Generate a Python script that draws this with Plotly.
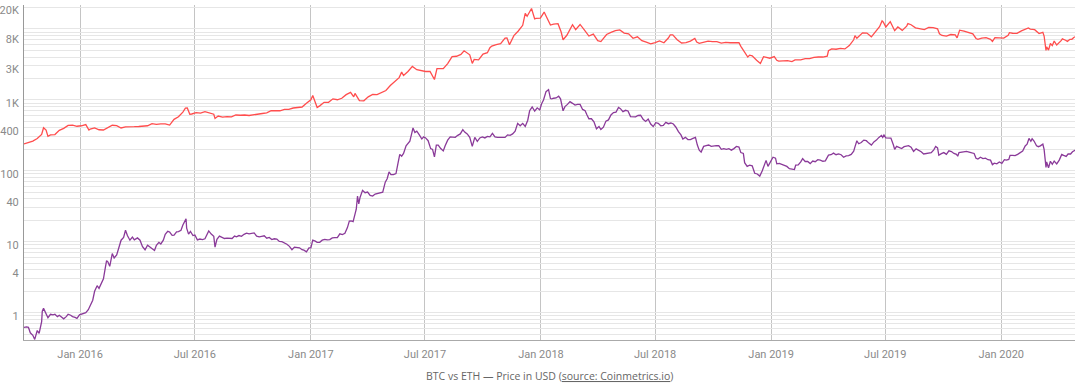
import plotly.graph_objects as go

# ---------------- data ----------------
btc_points = [
    ("2015-10-04", 238), ("2015-10-11", 247), ("2015-10-18", 262), ("2015-10-25", 285),
    ("2015-11-01", 325), ("2015-11-04", 403), ("2015-11-08", 373), ("2015-11-11", 305),
    ("2015-11-15", 320), ("2015-11-22", 323), ("2015-11-29", 370), ("2015-12-06", 395),
    ("2015-12-13", 435), ("2015-12-20", 440), ("2015-12-27", 423),
    ("2016-01-03", 430), ("2016-01-10", 447), ("2016-01-15", 375), ("2016-01-17", 387),
    ("2016-01-24", 402), ("2016-01-31", 378), ("2016-02-07", 375), ("2016-02-14", 405),
    ("2016-02-21", 437), ("2016-02-28", 432), ("2016-03-06", 400), ("2016-03-13", 414),
    ("2016-03-20", 411), ("2016-03-27", 417), ("2016-04-03", 420), ("2016-04-10", 421),
    ("2016-04-17", 430), ("2016-04-24", 460), ("2016-05-01", 451), ("2016-05-08", 458),
    ("2016-05-15", 457), ("2016-05-22", 440), ("2016-05-29", 530), ("2016-06-05", 575),
    ("2016-06-12", 670), ("2016-06-16", 760), ("2016-06-19", 765), ("2016-06-23", 625),
    ("2016-06-26", 630), ("2016-07-03", 660), ("2016-07-10", 650), ("2016-07-17", 680),
    ("2016-07-24", 660), ("2016-07-31", 625), ("2016-08-02", 545), ("2016-08-07", 590),
    ("2016-08-14", 570), ("2016-08-21", 580), ("2016-08-28", 575), ("2016-09-04", 610),
    ("2016-09-11", 605), ("2016-09-18", 610), ("2016-09-25", 600), ("2016-10-02", 610),
    ("2016-10-09", 617), ("2016-10-16", 640), ("2016-10-23", 655), ("2016-10-30", 700),
    ("2016-11-06", 705), ("2016-11-13", 700), ("2016-11-20", 730), ("2016-11-27", 730),
    ("2016-12-04", 765), ("2016-12-11", 770), ("2016-12-18", 790), ("2016-12-25", 890),
    ("2017-01-01", 1000), ("2017-01-04", 1150), ("2017-01-11", 780), ("2017-01-15", 820),
    ("2017-01-22", 920), ("2017-01-29", 920), ("2017-02-05", 1030), ("2017-02-12", 1000),
    ("2017-02-19", 1050), ("2017-02-26", 1180), ("2017-03-05", 1270), ("2017-03-10", 1100),
    ("2017-03-12", 1230), ("2017-03-19", 970), ("2017-03-26", 965), ("2017-04-02", 1100),
    ("2017-04-09", 1190), ("2017-04-16", 1180), ("2017-04-23", 1250), ("2017-04-30", 1350),
    ("2017-05-07", 1590), ("2017-05-14", 1780), ("2017-05-21", 2050), ("2017-05-25", 2450),
    ("2017-05-28", 2200), ("2017-06-04", 2500), ("2017-06-11", 2950), ("2017-06-18", 2650),
    ("2017-06-25", 2560), ("2017-07-02", 2500), ("2017-07-09", 2500), ("2017-07-16", 1930),
    ("2017-07-20", 2750), ("2017-07-23", 2750), ("2017-07-30", 2750), ("2017-08-06", 3230),
    ("2017-08-13", 4050), ("2017-08-20", 4100), ("2017-08-27", 4350), ("2017-09-01", 4900),
    ("2017-09-10", 4300), ("2017-09-14", 3250), ("2017-09-17", 3700), ("2017-09-24", 3650),
    ("2017-10-01", 4400), ("2017-10-08", 4600), ("2017-10-12", 5400), ("2017-10-15", 5700),
    ("2017-10-22", 6000), ("2017-10-29", 6150), ("2017-11-05", 7400), ("2017-11-08", 7450),
    ("2017-11-12", 5950), ("2017-11-19", 8000), ("2017-11-26", 9300), ("2017-12-03", 11200),
    ("2017-12-07", 16500), ("2017-12-10", 15000), ("2017-12-17", 19300), ("2017-12-22", 13800),
    ("2017-12-24", 14000), ("2017-12-31", 14150),
    ("2018-01-06", 17200), ("2018-01-10", 14500), ("2018-01-16", 11300), ("2018-01-21", 11600),
    ("2018-01-28", 11800), ("2018-02-02", 9000), ("2018-02-05", 7000), ("2018-02-11", 8100),
    ("2018-02-18", 10400), ("2018-02-20", 11400), ("2018-02-25", 9700), ("2018-03-04", 11500),
    ("2018-03-11", 9600), ("2018-03-18", 7900), ("2018-03-25", 8400), ("2018-04-01", 6800),
    ("2018-04-06", 6600), ("2018-04-12", 7900), ("2018-04-15", 8300), ("2018-04-22", 8900),
    ("2018-04-29", 9400), ("2018-05-06", 9650), ("2018-05-13", 8700), ("2018-05-20", 8500),
    ("2018-05-27", 7350), ("2018-06-03", 7700), ("2018-06-10", 6800), ("2018-06-17", 6500),
    ("2018-06-24", 6150), ("2018-07-01", 6400), ("2018-07-08", 6750), ("2018-07-15", 6350),
    ("2018-07-22", 7400), ("2018-07-25", 8200), ("2018-07-29", 8200), ("2018-08-05", 7000),
    ("2018-08-12", 6300), ("2018-08-19", 6400), ("2018-08-26", 6700), ("2018-09-02", 7300),
    ("2018-09-05", 6500), ("2018-09-09", 6250), ("2018-09-16", 6500), ("2018-09-23", 6700),
    ("2018-09-30", 6600), ("2018-10-07", 6600), ("2018-10-14", 6300), ("2018-10-21", 6450),
    ("2018-10-28", 6350), ("2018-11-04", 6400), ("2018-11-11", 6350), ("2018-11-14", 5650),
    ("2018-11-19", 4850), ("2018-11-21", 4550), ("2018-11-25", 4000), ("2018-11-28", 4250),
    ("2018-12-02", 4150), ("2018-12-09", 3600), ("2018-12-15", 3250), ("2018-12-20", 4050),
    ("2018-12-24", 4000), ("2018-12-30", 3850),
    ("2019-01-06", 4050), ("2019-01-10", 3600), ("2019-01-13", 3500), ("2019-01-20", 3550),
    ("2019-01-27", 3550), ("2019-02-03", 3450), ("2019-02-08", 3650), ("2019-02-17", 3650),
    ("2019-02-24", 3800), ("2019-03-03", 3800), ("2019-03-10", 3950), ("2019-03-17", 4000),
    ("2019-03-24", 4000), ("2019-03-31", 4100), ("2019-04-02", 4900), ("2019-04-07", 5200),
    ("2019-04-14", 5150), ("2019-04-21", 5300), ("2019-04-28", 5200), ("2019-05-05", 5800),
    ("2019-05-12", 7000), ("2019-05-14", 8000), ("2019-05-17", 7350), ("2019-05-26", 8750),
    ("2019-06-02", 8700), ("2019-06-09", 7700), ("2019-06-16", 9300), ("2019-06-22", 10700),
    ("2019-06-26", 12900), ("2019-06-28", 12400), ("2019-07-02", 10600), ("2019-07-09", 12600),
    ("2019-07-16", 9400), ("2019-07-21", 10600), ("2019-07-28", 9500), ("2019-08-04", 10900),
    ("2019-08-06", 11800), ("2019-08-11", 11400), ("2019-08-18", 10300), ("2019-08-25", 10100),
    ("2019-09-01", 9750), ("2019-09-08", 10450), ("2019-09-15", 10350), ("2019-09-22", 10000),
    ("2019-09-25", 8500), ("2019-09-29", 8050), ("2019-10-06", 7900), ("2019-10-13", 8300),
    ("2019-10-20", 8200), ("2019-10-23", 7450), ("2019-10-26", 9250), ("2019-10-27", 9550),
    ("2019-11-03", 9250), ("2019-11-10", 8800), ("2019-11-17", 8500), ("2019-11-22", 7300),
    ("2019-11-25", 7100), ("2019-12-01", 7400), ("2019-12-08", 7500), ("2019-12-15", 7100),
    ("2019-12-18", 6650), ("2019-12-22", 7500), ("2019-12-29", 7400),
    ("2020-01-05", 7400), ("2020-01-12", 8100), ("2020-01-14", 8800), ("2020-01-19", 8650),
    ("2020-01-26", 8600), ("2020-02-02", 9350), ("2020-02-09", 10100), ("2020-02-13", 10300),
    ("2020-02-16", 9900), ("2020-02-23", 9700), ("2020-03-01", 8550), ("2020-03-07", 8900),
    ("2020-03-09", 7900), ("2020-03-12", 4950), ("2020-03-13", 5550), ("2020-03-16", 5000),
    ("2020-03-19", 6200), ("2020-03-22", 5800), ("2020-03-25", 6700), ("2020-03-29", 5900),
    ("2020-04-05", 6800), ("2020-04-07", 7200), ("2020-04-12", 6900), ("2020-04-15", 6650),
    ("2020-04-19", 7100), ("2020-04-22", 7100), ("2020-04-25", 7550), ("2020-04-28", 7750),
]

eth_points = [
    ("2015-10-04", 0.62), ("2015-10-08", 0.63), ("2015-10-11", 0.62), ("2015-10-14", 0.52),
    ("2015-10-18", 0.48), ("2015-10-21", 0.42), ("2015-10-25", 0.56), ("2015-10-28", 0.51),
    ("2015-11-01", 0.75), ("2015-11-02", 1.05), ("2015-11-04", 1.15), ("2015-11-08", 0.95),
    ("2015-11-11", 0.85), ("2015-11-15", 0.95), ("2015-11-19", 0.93), ("2015-11-22", 0.95),
    ("2015-11-26", 0.88), ("2015-11-29", 0.92), ("2015-12-03", 0.85), ("2015-12-06", 0.82),
    ("2015-12-10", 0.88), ("2015-12-13", 0.95), ("2015-12-17", 0.92), ("2015-12-20", 0.88),
    ("2015-12-24", 0.86), ("2015-12-27", 0.83), ("2015-12-31", 0.93),
    ("2016-01-03", 0.95), ("2016-01-07", 0.96), ("2016-01-10", 1.0), ("2016-01-14", 1.1),
    ("2016-01-17", 1.25), ("2016-01-21", 1.5), ("2016-01-24", 2.0), ("2016-01-28", 2.4),
    ("2016-01-31", 2.2), ("2016-02-04", 2.6), ("2016-02-07", 3.0), ("2016-02-10", 4.3),
    ("2016-02-12", 5.4), ("2016-02-14", 5.2), ("2016-02-17", 4.5), ("2016-02-21", 6.8),
    ("2016-02-24", 5.9), ("2016-02-28", 6.5), ("2016-03-03", 8.2), ("2016-03-06", 10.5),
    ("2016-03-10", 11.5), ("2016-03-13", 14.5), ("2016-03-16", 12.2), ("2016-03-20", 10.5),
    ("2016-03-24", 11.6), ("2016-03-27", 10.6), ("2016-04-01", 11.3), ("2016-04-05", 10.5),
    ("2016-04-09", 8.5), ("2016-04-13", 7.7), ("2016-04-17", 8.9), ("2016-04-21", 8.3),
    ("2016-04-24", 7.8), ("2016-04-28", 7.5), ("2016-05-01", 8.9), ("2016-05-05", 9.8),
    ("2016-05-08", 9.3), ("2016-05-12", 10.5), ("2016-05-15", 12.7), ("2016-05-19", 14.0),
    ("2016-05-22", 13.7), ("2016-05-26", 12.3), ("2016-05-29", 12.4), ("2016-06-02", 13.8),
    ("2016-06-05", 13.9), ("2016-06-09", 14.5), ("2016-06-12", 17.2), ("2016-06-15", 19.5),
    ("2016-06-17", 21.0), ("2016-06-18", 15.5), ("2016-06-21", 12.8), ("2016-06-24", 14.0),
    ("2016-06-28", 12.2), ("2016-07-01", 12.4), ("2016-07-05", 10.6), ("2016-07-09", 10.9),
    ("2016-07-13", 10.7), ("2016-07-17", 11.0), ("2016-07-20", 12.5), ("2016-07-23", 14.2),
    ("2016-07-27", 12.8), ("2016-07-31", 11.9), ("2016-08-02", 8.4), ("2016-08-05", 10.8),
    ("2016-08-09", 12.0), ("2016-08-13", 11.6), ("2016-08-17", 11.1), ("2016-08-21", 11.2),
    ("2016-08-25", 11.2), ("2016-08-29", 11.1), ("2016-09-02", 12.0), ("2016-09-05", 11.7),
    ("2016-09-09", 12.2), ("2016-09-13", 11.9), ("2016-09-17", 12.7), ("2016-09-21", 13.2),
    ("2016-09-25", 12.9), ("2016-09-29", 13.1), ("2016-10-03", 13.3), ("2016-10-07", 12.0),
    ("2016-10-11", 11.7), ("2016-10-15", 11.9), ("2016-10-19", 12.1), ("2016-10-23", 11.2),
    ("2016-10-27", 11.5), ("2016-10-31", 10.7), ("2016-11-04", 11.0), ("2016-11-08", 10.9),
    ("2016-11-12", 10.1), ("2016-11-16", 10.0), ("2016-11-20", 9.6), ("2016-11-24", 9.2),
    ("2016-11-28", 8.6), ("2016-12-02", 7.7), ("2016-12-06", 8.4), ("2016-12-10", 8.2),
    ("2016-12-14", 8.2), ("2016-12-18", 7.7), ("2016-12-21", 7.6), ("2016-12-25", 7.2),
    ("2016-12-29", 8.2),
    ("2017-01-01", 8.2), ("2017-01-04", 10.5), ("2017-01-08", 10.2), ("2017-01-11", 9.8),
    ("2017-01-15", 9.8), ("2017-01-19", 10.5), ("2017-01-23", 10.8), ("2017-01-27", 10.6),
    ("2017-01-31", 10.7), ("2017-02-04", 11.3), ("2017-02-08", 11.4), ("2017-02-12", 11.4),
    ("2017-02-16", 12.9), ("2017-02-20", 12.6), ("2017-02-24", 13.1), ("2017-02-28", 15.8),
    ("2017-03-03", 19.5), ("2017-03-06", 19.6), ("2017-03-09", 19.2), ("2017-03-12", 23.5),
    ("2017-03-14", 28.7), ("2017-03-16", 44), ("2017-03-18", 34), ("2017-03-20", 42),
    ("2017-03-24", 53), ("2017-03-28", 49), ("2017-04-01", 50), ("2017-04-05", 45),
    ("2017-04-09", 44), ("2017-04-13", 47), ("2017-04-17", 48), ("2017-04-21", 48),
    ("2017-04-25", 50), ("2017-04-29", 69), ("2017-05-02", 77), ("2017-05-05", 96),
    ("2017-05-08", 88), ("2017-05-12", 88), ("2017-05-16", 91), ("2017-05-19", 125),
    ("2017-05-22", 170), ("2017-05-25", 160), ("2017-05-28", 175), ("2017-06-01", 225),
    ("2017-06-04", 245), ("2017-06-07", 260), ("2017-06-10", 335), ("2017-06-12", 400),
    ("2017-06-15", 345), ("2017-06-18", 360), ("2017-06-22", 320), ("2017-06-26", 280),
    ("2017-06-29", 300), ("2017-07-02", 290), ("2017-07-06", 265), ("2017-07-10", 205),
    ("2017-07-13", 200), ("2017-07-16", 157), ("2017-07-19", 230), ("2017-07-22", 230),
    ("2017-07-26", 205), ("2017-07-30", 190), ("2017-08-02", 225), ("2017-08-06", 270),
    ("2017-08-10", 300), ("2017-08-14", 300), ("2017-08-18", 295), ("2017-08-22", 315),
    ("2017-08-26", 330), ("2017-08-30", 380), ("2017-09-02", 350), ("2017-09-06", 330),
    ("2017-09-10", 295), ("2017-09-14", 220), ("2017-09-18", 295), ("2017-09-22", 260),
    ("2017-09-26", 290), ("2017-09-30", 300), ("2017-10-04", 290), ("2017-10-08", 305),
    ("2017-10-12", 300), ("2017-10-16", 335), ("2017-10-20", 300), ("2017-10-24", 295),
    ("2017-10-28", 295), ("2017-11-01", 290), ("2017-11-05", 295), ("2017-11-09", 320),
    ("2017-11-13", 315), ("2017-11-17", 330), ("2017-11-21", 360), ("2017-11-25", 465),
    ("2017-11-29", 430), ("2017-12-03", 465), ("2017-12-07", 420), ("2017-12-11", 515),
    ("2017-12-14", 700), ("2017-12-18", 790), ("2017-12-22", 690), ("2017-12-26", 770),
    ("2017-12-30", 720),
    ("2018-01-02", 880), ("2018-01-05", 990), ("2018-01-09", 1300), ("2018-01-13", 1390),
    ("2018-01-16", 1040), ("2018-01-18", 1030), ("2018-01-21", 1050), ("2018-01-25", 1060),
    ("2018-01-29", 1120), ("2018-02-01", 1030), ("2018-02-05", 700), ("2018-02-08", 800),
    ("2018-02-12", 860), ("2018-02-16", 940), ("2018-02-20", 890), ("2018-02-24", 840),
    ("2018-02-28", 860), ("2018-03-04", 860), ("2018-03-08", 730), ("2018-03-12", 700),
    ("2018-03-15", 610), ("2018-03-18", 540), ("2018-03-22", 540), ("2018-03-26", 490),
    ("2018-03-30", 390), ("2018-04-03", 420), ("2018-04-06", 380), ("2018-04-10", 410),
    ("2018-04-14", 500), ("2018-04-18", 520), ("2018-04-22", 610), ("2018-04-26", 660),
    ("2018-04-30", 670), ("2018-05-04", 780), ("2018-05-07", 750), ("2018-05-11", 680),
    ("2018-05-15", 710), ("2018-05-19", 695), ("2018-05-23", 580), ("2018-05-27", 575),
    ("2018-05-31", 575), ("2018-06-04", 600), ("2018-06-08", 605), ("2018-06-12", 530),
    ("2018-06-16", 495), ("2018-06-20", 535), ("2018-06-24", 455), ("2018-06-28", 420),
    ("2018-07-02", 475), ("2018-07-06", 465), ("2018-07-10", 430), ("2018-07-14", 435),
    ("2018-07-18", 480), ("2018-07-22", 460), ("2018-07-26", 470), ("2018-07-30", 455),
    ("2018-08-03", 410), ("2018-08-07", 355), ("2018-08-11", 320), ("2018-08-14", 280),
    ("2018-08-18", 295), ("2018-08-22", 275), ("2018-08-26", 275), ("2018-08-30", 285),
    ("2018-09-03", 295), ("2018-09-06", 230), ("2018-09-09", 195), ("2018-09-12", 183),
    ("2018-09-16", 220), ("2018-09-20", 225), ("2018-09-24", 230), ("2018-09-28", 220),
    ("2018-10-02", 225), ("2018-10-06", 225), ("2018-10-10", 225), ("2018-10-14", 200),
    ("2018-10-18", 205), ("2018-10-22", 200), ("2018-10-26", 205), ("2018-10-30", 195),
    ("2018-11-03", 205), ("2018-11-07", 220), ("2018-11-11", 215), ("2018-11-14", 180),
    ("2018-11-18", 175), ("2018-11-20", 130), ("2018-11-24", 115), ("2018-11-28", 120),
    ("2018-12-02", 117), ("2018-12-06", 92), ("2018-12-10", 90), ("2018-12-14", 84),
    ("2018-12-18", 100), ("2018-12-21", 116), ("2018-12-24", 140), ("2018-12-27", 115),
    ("2018-12-31", 133),
    ("2019-01-04", 155), ("2019-01-08", 150), ("2019-01-10", 125), ("2019-01-14", 127),
    ("2019-01-18", 122), ("2019-01-22", 118), ("2019-01-26", 115), ("2019-01-30", 107),
    ("2019-02-03", 106), ("2019-02-07", 104), ("2019-02-09", 120), ("2019-02-13", 121),
    ("2019-02-17", 133), ("2019-02-20", 148), ("2019-02-24", 135), ("2019-02-28", 135),
    ("2019-03-04", 126), ("2019-03-08", 137), ("2019-03-12", 134), ("2019-03-16", 143),
    ("2019-03-20", 141), ("2019-03-24", 136), ("2019-03-28", 138), ("2019-04-02", 166),
    ("2019-04-06", 168), ("2019-04-10", 177), ("2019-04-14", 168), ("2019-04-18", 173),
    ("2019-04-22", 168), ("2019-04-26", 155), ("2019-04-30", 162), ("2019-05-04", 163),
    ("2019-05-08", 170), ("2019-05-12", 188), ("2019-05-14", 217), ("2019-05-16", 250),
    ("2019-05-17", 264), ("2019-05-20", 240), ("2019-05-24", 250), ("2019-05-28", 270),
    ("2019-06-01", 265), ("2019-06-05", 245), ("2019-06-09", 230), ("2019-06-13", 255),
    ("2019-06-17", 270), ("2019-06-21", 295), ("2019-06-25", 315), ("2019-06-27", 295),
    ("2019-06-29", 318), ("2019-07-02", 290), ("2019-07-06", 288), ("2019-07-10", 288),
    ("2019-07-14", 230), ("2019-07-16", 200), ("2019-07-19", 220), ("2019-07-23", 210),
    ("2019-07-27", 205), ("2019-07-31", 218), ("2019-08-04", 222), ("2019-08-07", 225),
    ("2019-08-11", 215), ("2019-08-15", 187), ("2019-08-19", 203), ("2019-08-23", 195),
    ("2019-08-27", 185), ("2019-08-31", 172), ("2019-09-04", 175), ("2019-09-08", 180),
    ("2019-09-12", 180), ("2019-09-16", 197), ("2019-09-19", 220), ("2019-09-22", 210),
    ("2019-09-24", 165), ("2019-09-28", 174), ("2019-10-02", 180), ("2019-10-06", 170),
    ("2019-10-10", 191), ("2019-10-14", 186), ("2019-10-18", 175), ("2019-10-22", 170),
    ("2019-10-24", 160), ("2019-10-26", 180), ("2019-10-30", 183), ("2019-11-03", 182),
    ("2019-11-07", 187), ("2019-11-11", 183), ("2019-11-15", 180), ("2019-11-19", 175),
    ("2019-11-22", 150), ("2019-11-25", 146), ("2019-11-29", 155), ("2019-12-03", 148),
    ("2019-12-07", 150), ("2019-12-11", 143), ("2019-12-15", 141), ("2019-12-18", 122),
    ("2019-12-21", 128), ("2019-12-25", 125), ("2019-12-29", 133),
    ("2020-01-02", 127), ("2020-01-06", 143), ("2020-01-09", 141), ("2020-01-13", 144),
    ("2020-01-15", 165), ("2020-01-19", 165), ("2020-01-23", 163), ("2020-01-27", 170),
    ("2020-01-31", 180), ("2020-02-04", 190), ("2020-02-08", 223), ("2020-02-11", 236),
    ("2020-02-14", 285), ("2020-02-17", 260), ("2020-02-19", 282), ("2020-02-22", 262),
    ("2020-02-26", 225), ("2020-02-29", 218), ("2020-03-03", 224), ("2020-03-07", 237),
    ("2020-03-09", 200), ("2020-03-12", 111), ("2020-03-13", 133), ("2020-03-16", 110),
    ("2020-03-19", 136), ("2020-03-22", 123), ("2020-03-25", 137), ("2020-03-29", 125),
    ("2020-04-02", 141), ("2020-04-06", 170), ("2020-04-09", 165), ("2020-04-13", 159),
    ("2020-04-16", 172), ("2020-04-20", 172), ("2020-04-23", 185), ("2020-04-26", 195),
    ("2020-04-28", 197),
]

btc_dates = [d for d, _ in btc_points]
btc_usd = [v for _, v in btc_points]
eth_dates = [d for d, _ in eth_points]
eth_usd = [v for _, v in eth_points]

# y tick labels shown on the log axis; grid at every 1..9 x 10^k
y_label_vals = [1, 4, 10, 40, 100, 400, 1000, 3000, 8000, 20000]
y_label_text = ["1", "4", "10", "40", "100", "400", "1K", "3K", "8K", "20K"]
y_grid_vals = [m * 10 ** k for k in range(-1, 5) for m in range(1, 10) if 0.4 <= m * 10 ** k <= 20000]
y_tick_text = [y_label_text[y_label_vals.index(v)] if v in y_label_vals else "" for v in y_grid_vals]

x_tick_vals = ["2016-01-01", "2016-07-01", "2017-01-01", "2017-07-01", "2018-01-01",
               "2018-07-01", "2019-01-01", "2019-07-01", "2020-01-01"]
x_tick_text = ["Jan 2016", "Jul 2016", "Jan 2017", "Jul 2017", "Jan 2018",
               "Jul 2018", "Jan 2019", "Jul 2019", "Jan 2020"]

# ---------------- figure ----------------
fig = go.Figure()
fig.add_trace(go.Scatter(x=btc_dates, y=btc_usd, mode="lines", name="BTC",
                         line=dict(color="#ff4d4d", width=1.3)))
fig.add_trace(go.Scatter(x=eth_dates, y=eth_usd, mode="lines", name="ETH",
                         line=dict(color="#8a3a99", width=1.3)))

fig.update_layout(
    width=1080, height=384,
    margin=dict(l=24, r=5, t=5, b=44, autoexpand=False),
    paper_bgcolor="white", plot_bgcolor="white",
    showlegend=False,
    font=dict(family="Roboto, sans-serif", size=11, color="#8a8a8a"),
    xaxis=dict(
        type="date", range=["2015-10-04", "2020-04-27"],
        tickmode="array", tickvals=x_tick_vals, ticktext=x_tick_text,
        showgrid=True, gridcolor="#c4c4c4", gridwidth=1,
        showline=True, linecolor="#aaaaaa", linewidth=1,
        ticks="outside", ticklen=4, tickcolor="rgba(0,0,0,0)",
        zeroline=False, automargin=False,
    ),
    yaxis=dict(
        type="log", range=[-0.385, 4.335],
        tickmode="array", tickvals=y_grid_vals, ticktext=y_tick_text,
        showgrid=True, gridcolor="#e6e6e6", gridwidth=1,
        showline=True, linecolor="#999999", linewidth=1,
        ticks="", ticklabelstandoff=2, ticklabelshift=3,
        zeroline=False, automargin=False,
    ),
    annotations=[dict(
        text="BTC vs ETH \u2014 Price in USD (<u>source: Coinmetrics.io</u>)",
        xref="paper", yref="paper", x=0.5, y=-0.107,
        xanchor="center", yanchor="middle", showarrow=False,
        font=dict(family="Open Sans, sans-serif", size=10.5, color="#666666"),
    )],
)

fig.write_html("out.html", config={"displayModeBar": False},
               post_script="document.body.style.margin='0';")
